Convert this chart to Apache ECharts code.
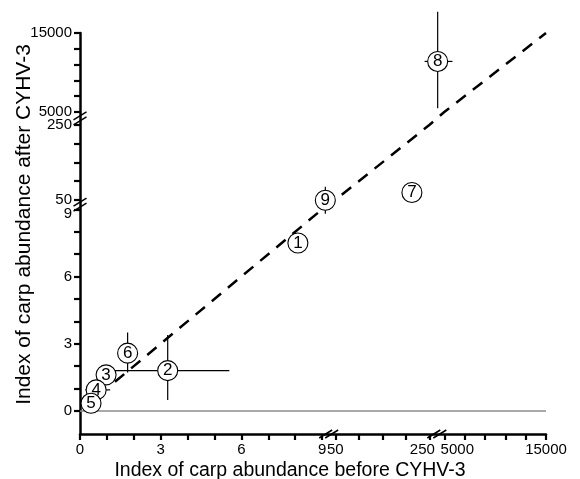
<!DOCTYPE html>
<html>
<head>
<meta charset="utf-8">
<script src="https://cdn.jsdelivr.net/npm/echarts@6/dist/echarts.min.js"></script>
<style>html,body{margin:0;padding:0;background:#fff}#c{width:580px;height:479px}</style>
</head>
<body>
<div id="c"></div>
<script>
// ---------------- data ----------------
const pointIds = ['1', '2', '3', '4', '5', '6', '7', '8', '9'];
const abundanceBefore = [8.1, 3.26, 0.97, 0.6, 0.41, 1.77, 213, 2900, 19];
const abundanceAfter = [7.5, 1.8, 1.61, 0.94, 0.34, 2.58, 70, 11400, 49];
const xErrLow = [null, 1.21, null, 0.2, null, null, null, 240, null];
const xErrHigh = [null, 5.55, null, 1.12, null, null, null, 5800, null];
const yErrLow = [null, 0.49, null, null, null, 1.72, null, 5470, 8.8];
const yErrHigh = [null, 3.39, null, null, null, 3.5, null, 17700, 85];
const oneToOne = [1.3, 9, 50, 250, 5000, 15000];
const zeroLine = [0, 15000];
const xTickValues = [0, 1, 2, 3, 4, 5, 6, 7, 8, 9, 50, 100, 150, 200, 250, 5000, 7000, 9000, 11000, 13000, 15000];
const yTickValues = [0, 1, 2, 3, 4, 5, 6, 7, 8, 9, 50, 100, 150, 200, 250, 5000, 7000, 9000, 11000, 13000, 15000];
const xTickLabels = [0, 3, 6, 9, 50, 250, 5000, 15000];
const yTickLabels = [0, 3, 6, 9, 50, 250, 5000, 15000];
const xBreaks = [[9, 50], [250, 5000]];
const yBreaks = [[9, 50], [250, 5000]];

// ---------------- broken-axis scale config ----------------
// [fromValue, toValue, fromPos, toPos] : piecewise linear scale segments
const xSegs = [[0, 9, 0, 242.1], [50, 250, 255.3, 349.3], [5000, 15000, 364.3, 466]];
const ySegs = [[0, 9, 0, 201.6], [50, 250, 211, 286], [5000, 15000, 299, 378]];
const yMinValue = -1.03;

function mapVal(v, segs) {
  for (const s of segs) {
    if (v >= s[0] && v <= s[1]) return s[2] + (v - s[0]) / (s[1] - s[0]) * (s[3] - s[2]);
  }
  const f = segs[0], l = segs[segs.length - 1];
  if (v < f[0]) return f[2] + (v - f[0]) / (f[1] - f[0]) * (f[3] - f[2]);
  if (v > l[1]) return l[2] + (v - l[0]) / (l[1] - l[0]) * (l[3] - l[2]);
  for (let i = 0; i < segs.length - 1; i++) {
    const a = segs[i], b = segs[i + 1];
    if (v > a[1] && v < b[0]) return a[3] + (v - a[1]) / (b[0] - a[1]) * (b[2] - a[3]);
  }
  return 0;
}
const tx = v => mapVal(v, xSegs);
const ty = v => mapVal(v, ySegs);
const key = v => Math.round(v * 100);

const xLabelMap = {}; xTickLabels.forEach(v => xLabelMap[key(tx(v))] = v);
const yLabelMap = {}; yTickLabels.forEach(v => yLabelMap[key(ty(v))] = v);

const FONT = "'Liberation Sans', Arial, Helvetica, sans-serif";
const LFS = 15;

const xRich = {
  n: { fontSize: LFS, fontFamily: FONT, color: '#000' },
  l: { fontSize: LFS, fontFamily: FONT, color: '#000', padding: [0, 14, 0, 0] },
  r: { fontSize: LFS, fontFamily: FONT, color: '#000', padding: [0, 0, 0, 26] }
};
const yRich = {
  n: { fontSize: LFS, fontFamily: FONT, color: '#000' },
  d: { fontSize: LFS, fontFamily: FONT, color: '#000', padding: [8, 0, 0, 0] }
};

const breakData = xBreaks.map(b => ['x', b[0], b[1]]).concat(yBreaks.map(b => ['y', b[0], b[1]]));

const chart = echarts.init(document.getElementById('c'), null, { renderer: 'canvas' });

const option = {
  animation: false,
  backgroundColor: '#fff',
  grid: { left: 80, right: 34, top: 33, bottom: 45, containLabel: false, outerBoundsMode: 'none' },
  xAxis: {
    type: 'value',
    min: 0,
    max: tx(15000),
    name: 'Index of carp abundance before CYHV-3',
    nameLocation: 'middle',
    nameGap: 27,
    nameMoveOverlap: false,
    nameTextStyle: { fontSize: 19.5, fontFamily: FONT, color: '#000', padding: [0, 46, 0, 0] },
    axisLine: { show: true, onZero: false, lineStyle: { color: '#000', width: 2.5 } },
    axisTick: { show: true, inside: false, length: 6, lineStyle: { color: '#000', width: 2.2 }, customValues: xTickValues.map(tx) },
    splitLine: { show: false },
    axisLabel: {
      margin: 8,
      customValues: xTickLabels.map(tx),
      rich: xRich,
      formatter: v => {
        const t = xLabelMap[key(v)];
        if (t === undefined) return '';
        if (t === 250) return '{l|' + t + '}';
        if (t === 5000) return '{r|' + t + '}';
        return '{n|' + t + '}';
      }
    }
  },
  yAxis: {
    type: 'value',
    min: ty(yMinValue),
    max: ty(15000),
    name: 'Index of carp abundance after CYHV-3',
    nameLocation: 'middle',
    nameGap: 45,
    nameMoveOverlap: false,
    nameTextStyle: { fontSize: 21, fontFamily: FONT, color: '#000', padding: [0, 0, 0, 18] },
    axisLine: { show: true, onZero: false, lineStyle: { color: '#000', width: 2.5 } },
    axisTick: { show: true, inside: false, length: 6, lineStyle: { color: '#000', width: 2.2 }, customValues: yTickValues.map(ty) },
    splitLine: { show: false },
    axisLabel: {
      margin: 8,
      customValues: yTickLabels.map(ty),
      rich: yRich,
      formatter: v => {
        const t = yLabelMap[key(v)];
        if (t === undefined) return '';
        if (t === 9) return '{d|' + t + '}';
        return '{n|' + t + '}';
      }
    }
  },
  series: [
    {
      type: 'line',
      data: zeroLine.map(v => [tx(v), ty(0)]),
      showSymbol: false,
      lineStyle: { color: '#8c8c8c', width: 1.5 },
      z: 1
    },
    {
      type: 'line',
      data: oneToOne.map(v => [tx(v), ty(v)]),
      showSymbol: false,
      lineStyle: { color: '#000', width: 2.5, type: [12, 9] },
      z: 2
    },
    {
      type: 'custom',
      clip: false,
      z: 3,
      data: pointIds.map((id, i) => [i]),
      renderItem: (params, api) => {
        const i = api.value(0);
        const children = [];
        const st = { stroke: '#000', lineWidth: 1.2 };
        if (xErrLow[i] !== null) {
          const a = api.coord([tx(xErrLow[i]), ty(abundanceAfter[i])]);
          const b = api.coord([tx(xErrHigh[i]), ty(abundanceAfter[i])]);
          children.push({ type: 'line', shape: { x1: a[0], y1: a[1], x2: b[0], y2: b[1] }, style: st });
        }
        if (yErrLow[i] !== null) {
          const a = api.coord([tx(abundanceBefore[i]), ty(yErrLow[i])]);
          const b = api.coord([tx(abundanceBefore[i]), ty(yErrHigh[i])]);
          children.push({ type: 'line', shape: { x1: a[0], y1: a[1], x2: b[0], y2: b[1] }, style: st });
        }
        return { type: 'group', children };
      }
    },
    {
      type: 'custom',
      clip: false,
      z: 6,
      data: breakData.map((d, i) => [i]),
      renderItem: (params, api) => {
        const d = breakData[api.value(0)];
        let p;
        if (d[0] === 'x') {
          const m = (tx(d[1]) + tx(d[2])) / 2;
          p = api.coord([m, ty(yMinValue)]);
        } else {
          const m = (ty(d[1]) + ty(d[2])) / 2;
          p = api.coord([0, m]);
        }
        const st = { stroke: '#000', lineWidth: 1.5 };
        const off = d[0] === 'x' ? [[-3, 0], [3, 0]] : [[0, -2.5], [0, 2.5]];
        return {
          type: 'group',
          children: off.map(o => ({
            type: 'line',
            shape: { x1: p[0] + o[0] - 6.5, y1: p[1] + o[1] + 4, x2: p[0] + o[0] + 6.5, y2: p[1] + o[1] - 4 },
            style: st
          }))
        };
      }
    },
    {
      type: 'scatter',
      z: 5,
      symbol: 'circle',
      symbolSize: 20,
      itemStyle: { color: '#fff', borderColor: '#000', borderWidth: 1.1, opacity: 1 },
      label: {
        show: true,
        position: 'inside',
        formatter: p => p.data[2],
        fontSize: 17,
        fontFamily: FONT,
        color: '#000'
      },
      data: pointIds.map((id, i) => [tx(abundanceBefore[i]), ty(abundanceAfter[i]), id])
    }
  ]
};
chart.setOption(option);
</script>
</body>
</html>
